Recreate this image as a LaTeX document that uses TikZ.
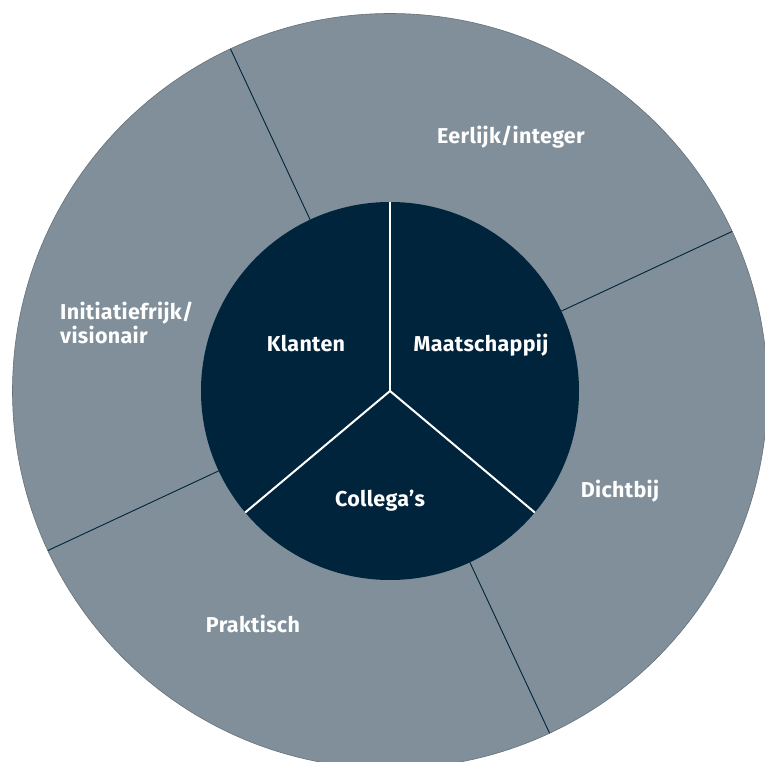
\documentclass[tikz,border=0pt]{standalone}
\usepackage{fontspec}
\setmainfont{Fira Sans}[LetterSpace=1.5]
\usepackage{tikz}
\usetikzlibrary{positioning}
\definecolor{ringgrey}{HTML}{808F99}
\definecolor{corenavy}{HTML}{00243B}

\begin{document}
\begin{tikzpicture}[x=1pt,y=1pt,
  font=\fontsize{21.5}{23.5}\selectfont\bfseries,
  lbl/.style={text=white, inner sep=0pt, anchor=base}]
\useasboundingbox (-390,-371) rectangle (375,391);
\clip (-390,-371) rectangle (375,391);
% outer ring with its four segments
\fill[ringgrey, draw=ringgrey!80!black, line width=0.6pt] (0,0) circle(377.5);
\foreach \a in {25,115,205,295}
  \draw[corenavy, line width=0.9pt] (\a:189) -- (\a:377.5);
% inner disc, split in three
\fill[corenavy] (0,0) circle(189);
\foreach \a in {90,220,320}
  \draw[white, line width=2pt] (0,0) -- (\a:189);
% ring labels (multi-line node sits on its last baseline)
\node[lbl] (eerlijk) at (121,247.5) {Eerlijk/integer};
\node[lbl, anchor=base west, align=left] (initiatief) at (-330,47.7) {Initiatiefrijk/\\visionair};
\node[lbl] (dichtbij) at (230,-107) {Dichtbij};
\node[lbl] (praktisch) at (-137,-241.7) {Praktisch};
% disc labels
\node[lbl] (klanten) at (-84,39) {Klanten};
\node[lbl] (maatschappij) at (91,39) {Maatschappij};
\node[lbl] (collegas) at (-10,-115.7) {Collega’s};
\end{tikzpicture}
\end{document}
